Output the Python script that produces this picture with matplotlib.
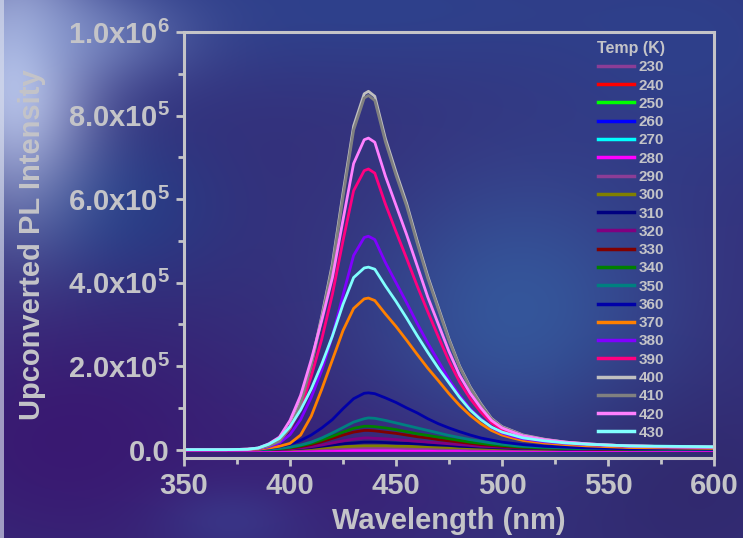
import numpy as np
import matplotlib
matplotlib.use("Agg")
import matplotlib.pyplot as plt
from matplotlib.ticker import FixedLocator, FixedFormatter, MultipleLocator

# ---------------- data (intensity in units of 1e3 counts) ----------------
wavelength = [350, 370, 380, 385, 390, 395, 400, 405, 410, 415, 420, 425, 430,
              435, 437, 440, 445, 450, 455, 460, 465, 470, 475, 480, 485, 490,
              495, 500, 505, 510, 520, 530, 540, 550, 560, 580, 600]

temps = ["230", "240", "250", "260", "270", "280", "290", "300", "310", "320",
         "330", "340", "350", "360", "370", "380", "390", "400", "410", "420", "430"]

s230 = [0, 0, 0, 0, 0, 0, 0, 0, 1, 1, 1, 1, 1, 1, 1, 1, 1, 1, 1, 1, 1, 1, 1, 1, 0, 0, 0, 0, 0, 0, 0, 0, 0, 0, 0, 0, 0]
s240 = [0, 0, 0, 0, 0, 0, 0, 0, 0, 1, 1, 1, 1, 1, 1, 1, 1, 1, 1, 1, 1, 1, 0, 0, 0, 0, 0, 0, 0, 0, 0, 0, 0, 0, 0, 0, 0]
s250 = [0, 0, 0, 0, 0, 0, 0, 0, 0, 1, 1, 1, 1, 1, 1, 1, 1, 1, 1, 1, 1, 1, 0, 0, 0, 0, 0, 0, 0, 0, 0, 0, 0, 0, 0, 0, 0]
s260 = [0, 0, 0, 0, 0, 0, 0, 0, 1, 1, 1, 1, 2, 2, 2, 2, 2, 1, 1, 1, 1, 1, 1, 0, 0, 0, 0, 0, 0, 0, 0, 0, 0, 0, 0, 0, 0]
s270 = [0, 0, 0, 0, 0, 0, 0, 0, 1, 1, 1, 2, 2, 2, 2, 2, 2, 2, 1, 1, 1, 1, 1, 0, 0, 0, 0, 0, 0, 0, 0, 0, 0, 0, 0, 0, 0]
s280 = [0, 0, 0, 0, 0, 0, 0, 0, 0, 0, 0, 0, 0, 0, 0, 0, 0, 0, 0, 0, 0, 0, 0, 0, 0, 0, 0, 0, 0, 0, 0, 0, 0, 0, 0, 0, 0]
s290 = [0, 0, 0, 0, 0, 0, 0, 1, 1, 2, 2, 3, 4, 4, 4, 4, 4, 4, 3, 3, 3, 2, 2, 2, 1, 1, 1, 1, 1, 0, 0, 0, 0, 0, 0, 0, 0]
s300 = [0, 0, 0, 0, 0, 0, 1, 2, 3, 4, 6, 7, 8, 9, 9, 9, 9, 8, 8, 7, 7, 6, 5, 5, 4, 3, 3, 2, 2, 2, 1, 1, 1, 0, 0, 0, 0]
s310 = [0, 0, 0, 0, 0, 1, 2, 3, 5, 8, 11, 14, 16, 18, 18, 18, 17, 16, 15, 14, 12, 11, 10, 8, 7, 6, 5, 4, 3, 3, 2, 1, 1, 1, 0, 0, 0]
s320 = [0, 0, 0, 0, 0, 1, 2, 4, 7, 11, 16, 21, 25, 28, 28, 27, 26, 24, 22, 20, 18, 16, 14, 12, 10, 8, 7, 6, 5, 4, 3, 2, 1, 1, 1, 0, 0]
s330 = [0, 0, 0, 0, 1, 2, 4, 7, 12, 19, 27, 35, 42, 46, 46, 45, 42, 39, 35, 31, 28, 24, 21, 18, 15, 12, 10, 8, 6, 5, 4, 3, 2, 1, 1, 1, 0]
s340 = [0, 0, 0, 0, 1, 2, 5, 9, 15, 23, 32, 42, 51, 56, 56, 55, 52, 48, 43, 38, 34, 30, 26, 22, 18, 15, 12, 10, 8, 6, 4, 3, 2, 2, 1, 1, 1]
s350 = [0, 0, 0, 0, 1, 3, 6, 11, 18, 28, 40, 53, 66, 74, 76, 75, 70, 64, 58, 52, 46, 40, 34, 29, 24, 20, 16, 13, 10, 8, 6, 4, 3, 2, 2, 1, 1]
s360 = [0, 0, 0, 1, 3, 7, 13, 22, 35, 52, 72, 98, 122, 135, 136, 134, 124, 113, 100, 88, 74, 62, 52, 43, 35, 28, 23, 18, 15, 12, 8, 6, 4, 3, 2, 2, 1]
s370 = [0, 0, 0, 1, 4, 8, 15, 35, 80, 145, 215, 285, 338, 361, 363, 357, 325, 295, 262, 228, 195, 165, 134, 106, 82, 62, 46, 35, 28, 22, 16, 12, 9, 7, 5, 4, 3]
s380 = [0, 0, 1, 2, 7, 16, 36, 72, 125, 190, 272, 370, 465, 508, 511, 503, 448, 400, 352, 302, 255, 212, 168, 130, 98, 74, 53, 40, 32, 26, 19, 15, 12, 10, 8, 6, 5]
s390 = [0, 0, 1, 3, 10, 22, 50, 100, 175, 265, 372, 500, 620, 668, 672, 662, 588, 522, 458, 392, 330, 270, 212, 162, 122, 90, 64, 48, 38, 30, 22, 17, 13, 11, 9, 7, 6]
s400 = [0, 0, 1, 3, 10, 22, 55, 115, 205, 320, 445, 615, 775, 852, 858, 846, 745, 665, 590, 500, 415, 340, 265, 200, 150, 110, 75, 55, 45, 35, 25, 18, 14, 11, 9, 7, 6]
s410 = [0, 0, 1, 3, 9, 20, 52, 110, 200, 315, 438, 605, 765, 842, 848, 836, 737, 657, 583, 494, 410, 336, 262, 198, 148, 108, 74, 54, 44, 34, 24, 17, 13, 11, 9, 7, 6]
s420 = [0, 0, 1, 4, 14, 30, 70, 130, 215, 310, 412, 550, 685, 742, 746, 736, 655, 585, 515, 440, 365, 300, 235, 178, 135, 100, 70, 52, 42, 33, 24, 18, 14, 11, 9, 7, 6]
s430 = [0, 0, 1, 4, 13, 27, 55, 95, 145, 205, 272, 348, 412, 435, 437, 432, 392, 355, 315, 273, 233, 195, 160, 125, 95, 72, 54, 42, 35, 28, 21, 16, 13, 11, 9, 8, 7]

series = [s230, s240, s250, s260, s270, s280, s290, s300, s310, s320, s330,
          s340, s350, s360, s370, s380, s390, s400, s410, s420, s430]

colors = ["#8c3d96", "#ff0000", "#00ff00", "#0000ff", "#00ffff", "#ff00ff",
          "#8c3d96", "#808000", "#000080", "#800080", "#800000", "#008000",
          "#008080", "#0000a8", "#ff8000", "#8000ff", "#ff0080", "#c0c0c0",
          "#808080", "#ff80ff", "#80ffff"]

ytick_values = [0, 2e5, 4e5, 6e5, 8e5, 1e6]
ytick_labels = ["0.0", r"2.0x10$^{5}$", r"4.0x10$^{5}$", r"6.0x10$^{5}$",
                r"8.0x10$^{5}$", r"1.0x10$^{6}$"]
xtick_values = [350, 400, 450, 500, 550, 600]
xtick_labels = ["350", "400", "450", "500", "550", "600"]

# ---------------- style ----------------
TXT = "#c4c4c8"
plt.rcParams["font.family"] = ["Liberation Sans", "DejaVu Sans"]
plt.rcParams["font.weight"] = "bold"
plt.rcParams["mathtext.fontset"] = "custom"
plt.rcParams["mathtext.rm"] = "Liberation Sans:bold"
plt.rcParams["mathtext.it"] = "Liberation Sans:bold"
plt.rcParams["mathtext.bf"] = "Liberation Sans:bold"
plt.rcParams["mathtext.default"] = "rm"

W, H = 743, 538
fig = plt.figure(figsize=(W / 100, H / 100), dpi=100)

# ---------------- decorative blurred background ----------------
yy, xx = np.mgrid[0:H, 0:W].astype(float)
img = np.zeros((H, W, 3))
img[:] = np.array([0x35, 0x2f, 0x7a]) / 255.0


def blob(img, cx, cy, sx, sy, hexcol, strength):
    c = np.array([int(hexcol[i:i + 2], 16) for i in (1, 3, 5)]) / 255.0
    g = strength * np.exp(-(((xx - cx) / sx) ** 2 + ((yy - cy) / sy) ** 2) / 2)
    return img * (1 - g[..., None]) + g[..., None] * c


img = blob(img, 350, 5, 260, 60, "#2b4a95", 0.65)
img = blob(img, 700, 60, 110, 90, "#2a4a95", 0.5)
img = blob(img, 110, 210, 80, 60, "#22428a", 0.75)
img = blob(img, 520, 320, 110, 110, "#3468aa", 0.7)
img = blob(img, 70, 440, 130, 90, "#3a1570", 0.85)
img = blob(img, 330, 480, 150, 60, "#3c1a75", 0.6)
img = blob(img, 680, 480, 100, 80, "#2d2262", 0.5)
img = blob(img, 230, 520, 50, 25, "#3a4595", 0.5)
img = blob(img, 15, 80, 55, 95, "#c0cdf0", 0.92)
img = blob(img, 90, 35, 70, 35, "#8ea2d8", 0.5)
img[:, :4] = img[:, :4] * 0.35 + np.array([0.85, 0.87, 0.93]) * 0.65

bg = fig.add_axes([0, 0, 1, 1], zorder=-10)
bg.imshow(img, aspect="auto", interpolation="bilinear")
bg.axis("off")

# ---------------- main axes ----------------
ax = fig.add_axes([184 / W, 1 - 458 / H, (714 - 184) / W, (458 - 32) / H])
ax.set_facecolor("none")

wl = np.array(wavelength)
for lab, vals, col in zip(temps, series, colors):
    ax.plot(wl, np.array(vals) * 1e3, color=col, lw=2.0, label=lab,
            solid_joinstyle="round")

ax.set_xlim(350, 600)
ax.set_ylim(-2e4, 1e6)

ax.xaxis.set_major_locator(FixedLocator(xtick_values))
ax.xaxis.set_major_formatter(FixedFormatter(xtick_labels))
ax.xaxis.set_minor_locator(MultipleLocator(25))
ax.yaxis.set_major_locator(FixedLocator(ytick_values))
ax.yaxis.set_major_formatter(FixedFormatter(ytick_labels))
ax.yaxis.set_minor_locator(MultipleLocator(1e5))

for sp in ax.spines.values():
    sp.set_color(TXT)
    sp.set_linewidth(2.2)

ax.tick_params(which="both", direction="out", colors=TXT, width=2.0,
               top=False, right=False)
ax.tick_params(which="major", length=6, labelsize=21, pad=4)
ax.tick_params(which="minor", length=4)
for t in ax.get_xticklabels() + ax.get_yticklabels():
    t.set_fontweight("bold")
    t.set_color(TXT)

ax.set_xlabel("Wavelength (nm)", fontsize=21, fontweight="bold", color=TXT,
              labelpad=5)
ax.set_ylabel("Upconverted PL Intensity", fontsize=21, fontweight="bold",
              color=TXT, labelpad=16)

leg = ax.legend(loc="upper left", bbox_to_anchor=(597 / W, 1 - 41 / H),
                bbox_transform=fig.transFigure, frameon=False,
                title="Temp (K)", fontsize=11, title_fontsize=11.5,
                handlelength=2.4, handletextpad=0.3, labelspacing=0.28,
                borderpad=0, borderaxespad=0)
for t in leg.get_texts():
    t.set_color(TXT)
    t.set_fontweight("bold")
leg.get_title().set_color(TXT)
leg.get_title().set_fontweight("bold")
for h in leg.legend_handles:
    h.set_linewidth(2.5)

fig.savefig("out.png", dpi=100)
